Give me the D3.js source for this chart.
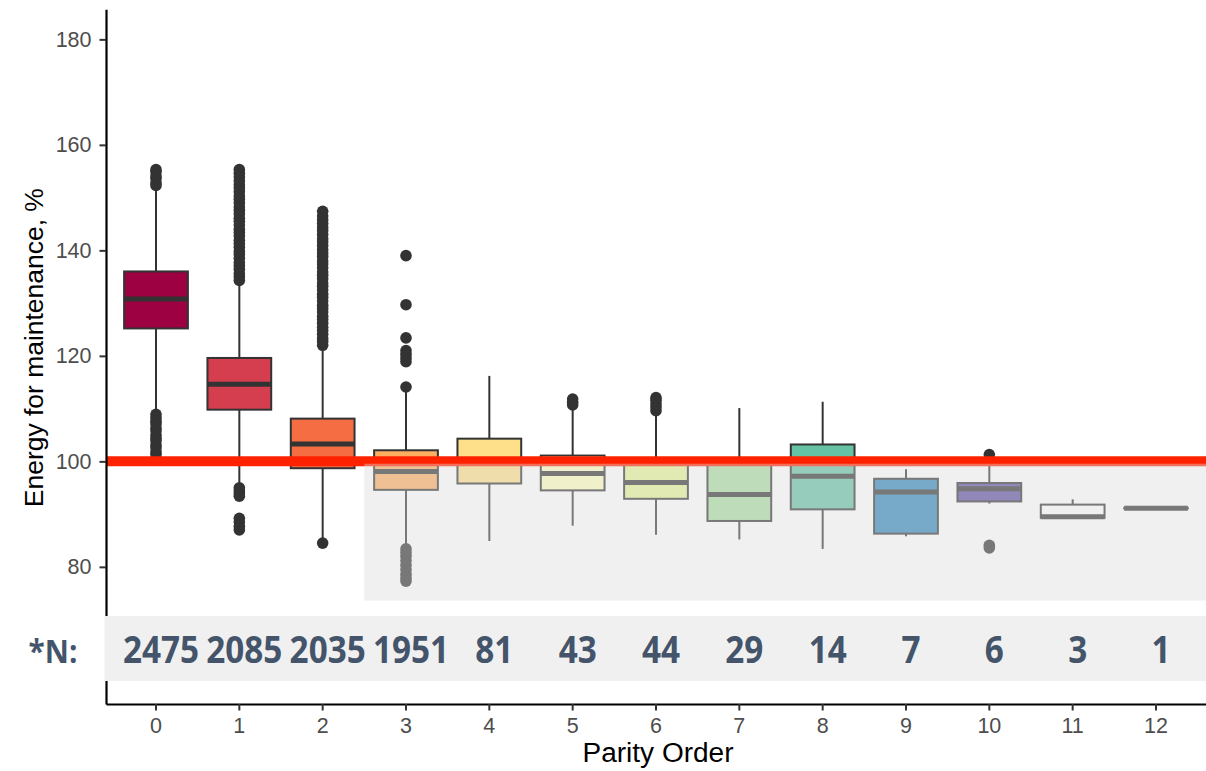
<!DOCTYPE html>
<html>
<head>
<meta charset="utf-8">
<script src="https://cdn.jsdelivr.net/npm/d3@7"></script>
<style>
  html, body { margin: 0; padding: 0; background: #ffffff; }
  svg { display: block; }
  .axis text { font-family: "Liberation Sans", Arial, sans-serif; font-size: 21.5px; fill: #4d4d4d; }
</style>
</head>
<body>
<script>
// Parity order categories and sample sizes per category
const parityOrder = ["0", "1", "2", "3", "4", "5", "6", "7", "8", "9", "10", "11", "12"];
const sampleN = [2475, 2085, 2035, 1951, 81, 43, 44, 29, 14, 7, 6, 3, 1];

// Box-plot summary statistics (energy for maintenance, %)
const lowerWhisker = [109.2, 95.3, 85.2, 84.2, 84.9, 87.8, 86.1, 85.2, 83.4, 85.8, 92.0, 89.2, 91.1];
const q1           = [125.2, 109.8, 98.7, 94.6, 95.8, 94.5, 92.9, 88.7, 90.9, 86.3, 92.4, 89.3, 91.1];
const median       = [130.8, 114.6, 103.3, 98.1, 100.1, 97.7, 96.0, 93.7, 97.2, 94.2, 94.8, 89.5, 91.1];
const q3           = [136.0, 119.6, 108.1, 102.1, 104.3, 101.1, 100.3, 100.3, 103.2, 96.7, 95.9, 91.8, 91.1];
const upperWhisker = [152.0, 134.1, 121.8, 113.6, 116.2, 110.2, 109.2, 110.1, 111.3, 98.5, 99.3, 92.8, 91.1];

// Outlying observations per category
const outliers = [
  [152.3, 152.8, 153.6, 154.1, 154.9, 155.3,
   108.9, 108.2, 107.6, 107.1, 106.3, 105.8, 105.0, 104.4, 103.9, 103.1, 102.6, 101.8, 101.3, 100.5],
  [134.3, 135.0, 135.6, 136.4, 137.1, 137.7, 138.5, 139.2, 139.8, 140.6, 141.3, 141.9, 142.7, 143.4,
   144.0, 144.8, 145.5, 146.1, 146.9, 147.6, 148.2, 149.0, 149.7, 150.3, 151.1, 151.8, 152.4, 153.2,
   153.9, 154.6, 155.3,
   95.0, 94.4, 93.9, 93.4, 89.2, 88.5, 87.7, 87.0],
  [122.0, 122.7, 123.3, 124.1, 124.8, 125.4, 126.2, 126.9, 127.5, 128.3, 129.0, 129.6, 130.4, 131.1,
   131.7, 132.5, 133.2, 133.8, 134.6, 135.3, 135.9, 136.7, 137.4, 138.0, 138.8, 139.5, 140.1, 140.9,
   141.6, 142.2, 143.0, 143.7, 144.3, 145.1, 145.8, 146.5, 147.4,
   84.5],
  [139.0, 129.7, 123.4, 121.0, 120.3, 119.6, 118.9, 114.1,
   83.4, 82.7, 82.0, 81.2, 80.3, 79.5, 78.6, 77.9, 77.3],
  [],
  [110.7, 111.2, 111.8],
  [109.6, 110.3, 110.9, 111.6, 112.1],
  [],
  [],
  [],
  [101.3, 84.1, 83.6],
  [],
  []
];

// Axis ticks and reference level
const yTicks = [80, 100, 120, 140, 160, 180];
const referenceLevel = 100;

// Spectral fills, last two categories unfilled
const boxFill = ["#9e0142", "#d53e4f", "#f46d43", "#fdae61", "#fee08b", "#ffffbf",
                 "#e6f598", "#abdda4", "#66c2a5", "#3288bd", "#5e4fa2", "#ffffff", "#ffffff"];

const W = 1206, H = 771;
const svg = d3.select("body").append("svg").attr("width", W).attr("height", H);

const x = d3.scaleBand().domain(parityOrder).range([106, 1206]).paddingInner(0).paddingOuter(0.1);
const y = d3.scaleLinear().domain([54, 185.7]).range([704, 9.3]);
const cx = d => x(d) + x.bandwidth() / 2;
const boxW = x.bandwidth() * 0.765;

const rows = parityOrder.map((p, i) => ({
  p, lw: lowerWhisker[i], q1: q1[i], med: median[i], q3: q3[i], uw: upperWhisker[i],
  out: outliers[i], fill: boxFill[i]
}));

const ink = "#333333";
const plot = svg.append("g");

// Whiskers
plot.selectAll("line.whisker-up").data(rows).join("line")
  .attr("x1", d => cx(d.p)).attr("x2", d => cx(d.p))
  .attr("y1", d => y(d.q3)).attr("y2", d => y(d.uw))
  .attr("stroke", ink).attr("stroke-width", 2);
plot.selectAll("line.whisker-down").data(rows).join("line")
  .attr("x1", d => cx(d.p)).attr("x2", d => cx(d.p))
  .attr("y1", d => y(d.q1)).attr("y2", d => y(d.lw))
  .attr("stroke", ink).attr("stroke-width", 2);

// Boxes
plot.selectAll("rect.box").data(rows).join("rect")
  .attr("x", d => cx(d.p) - boxW / 2).attr("width", boxW)
  .attr("y", d => y(d.q3)).attr("height", d => Math.max(0.001, y(d.q1) - y(d.q3)))
  .attr("fill", d => d.fill).attr("stroke", ink).attr("stroke-width", 2);

// Medians
plot.selectAll("line.median").data(rows).join("line")
  .attr("x1", d => cx(d.p) - boxW / 2).attr("x2", d => cx(d.p) + boxW / 2)
  .attr("y1", d => y(d.med)).attr("y2", d => y(d.med))
  .attr("stroke", ink).attr("stroke-width", 5);

// Outliers
const outPts = rows.flatMap(d => d.out.map(v => ({ p: d.p, v })));
plot.selectAll("circle.outlier").data(outPts).join("circle")
  .attr("cx", d => cx(d.p)).attr("cy", d => y(d.v)).attr("r", 5.8)
  .attr("fill", ink);

// Reference line at 100 %
plot.append("line")
  .attr("x1", 106).attr("x2", 1206)
  .attr("y1", y(referenceLevel)).attr("y2", y(referenceLevel))
  .attr("stroke", "#ff2200").attr("stroke-width", 10);

// Shaded region for low-sample categories below the reference level
plot.append("rect")
  .attr("x", x("3")).attr("width", 1206 - x("3"))
  .attr("y", y(99.55)).attr("height", y(73.6) - y(99.55))
  .attr("fill", "rgb(218,218,218)").attr("fill-opacity", 0.41);

// Axes
const yAxis = svg.append("g").attr("class", "axis").attr("transform", "translate(106,0)")
  .call(d3.axisLeft(y).tickValues(yTicks).tickSize(6.5).tickSizeOuter(0).tickPadding(8));
const xAxis = svg.append("g").attr("class", "axis").attr("transform", "translate(0,704)")
  .call(d3.axisBottom(x).tickSize(6.5).tickSizeOuter(0).tickPadding(7));

[yAxis, xAxis].forEach(g => {
  g.attr("font-size", null).attr("font-family", null);
  g.select(".domain").attr("stroke", "#000").attr("stroke-width", 2.2);
  g.selectAll(".tick line").attr("stroke", ink).attr("stroke-width", 2);
  g.selectAll(".tick text")
    .attr("fill", "#4d4d4d")
    .style("font-size", "21.5px")
    .style("font-family", "'Liberation Sans', Arial, sans-serif");
});

// Axis titles
svg.append("text")
  .attr("transform", `translate(43,${(9.3 + 704) / 2 - 9}) rotate(-90)`)
  .attr("text-anchor", "middle")
  .attr("textLength", 319).attr("lengthAdjust", "spacingAndGlyphs")
  .style("font-family", "'Liberation Sans', Arial, sans-serif").style("font-size", "26.5px")
  .attr("fill", "#000")
  .text("Energy for maintenance, %");

svg.append("text")
  .attr("x", 658).attr("y", 762)
  .attr("text-anchor", "middle")
  .attr("textLength", 151).attr("lengthAdjust", "spacingAndGlyphs")
  .style("font-family", "'Liberation Sans', Arial, sans-serif").style("font-size", "27px")
  .attr("fill", "#000")
  .text("Parity Order");

// Sample size band
svg.append("rect")
  .attr("x", 104.5).attr("y", 616).attr("width", 1206 - 104.5).attr("height", 65)
  .attr("fill", "#f0f0f0");

const nColor = "#44546a";
const nFont = "'Open Sans', 'Noto Sans', sans-serif";
svg.append("text")
  .attr("transform", "translate(53,663) scale(0.9,1)")
  .attr("text-anchor", "middle")
  .style("font-family", nFont).style("font-weight", 700).style("font-size", "33px")
  .attr("fill", nColor)
  .text("*N:");

svg.selectAll("text.n-count").data(parityOrder).join("text")
  .attr("class", "n-count")
  .attr("transform", d => `translate(${cx(d) + 5},663) scale(0.9,1)`)
  .attr("text-anchor", "middle")
  .style("font-family", nFont).style("font-weight", 700).style("font-size", "37px")
  .attr("fill", nColor)
  .text((d, i) => sampleN[i]);
</script>
</body>
</html>
